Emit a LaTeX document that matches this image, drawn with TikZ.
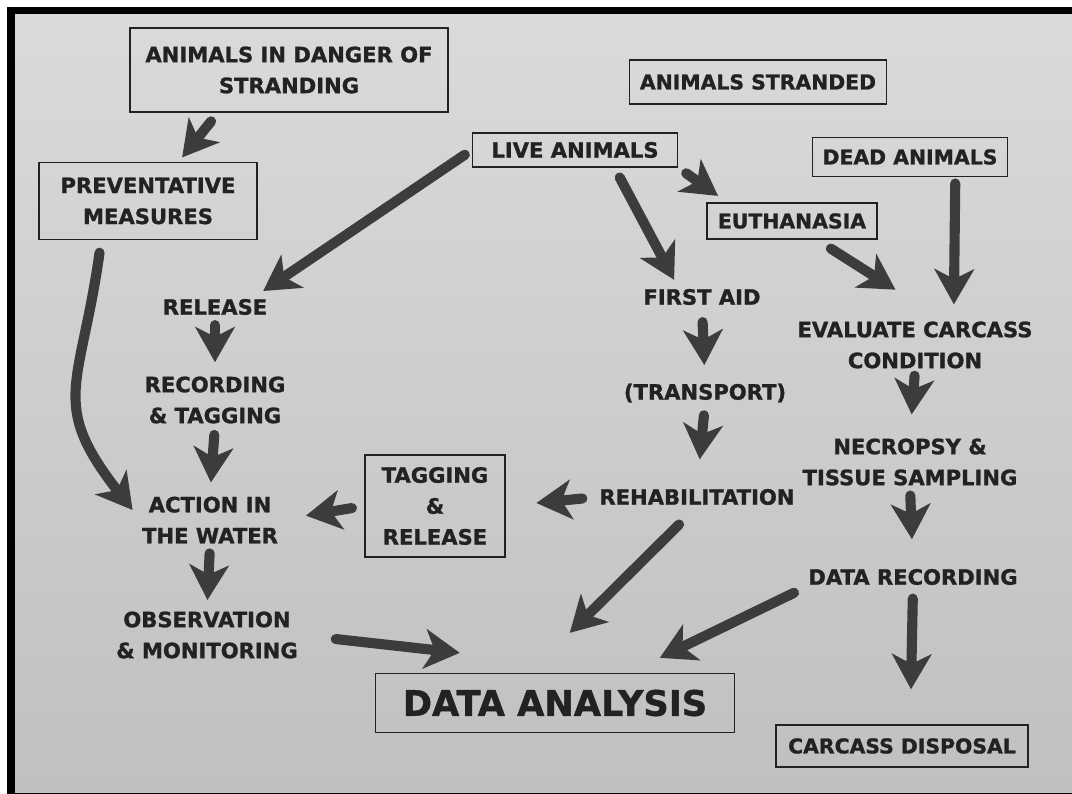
\documentclass[tikz,border=0pt]{standalone}
\usepackage{fontspec}
\setmainfont{DejaVu Sans}[BoldFeatures={FakeBold=1.2}]
\usetikzlibrary{arrows.meta}

\definecolor{ink}{RGB}{34,34,34}
\definecolor{arrowgray}{RGB}{60,60,60}
\definecolor{papertop}{RGB}{218,218,216}
\definecolor{paperbot}{RGB}{192,192,191}

\tikzset{
  stage/.style={align=center, text=ink, inner sep=1pt,
    font=\fontsize{15}{22}\selectfont\bfseries},
  box/.style={stage, draw=ink, line width=0.8pt},
  flow/.style={draw=arrowgray, line width=7.2pt, line cap=round,
    -{Stealth[length=25pt, width=28pt, inset=7pt]}},
}

\begin{document}
\begin{tikzpicture}[x=0.025cm, y=-0.025cm]
  % Photo frame
  \useasboundingbox (0,0) rectangle (1072,794);
  \fill[white] (0,0) rectangle (1072,794);
  \fill[black] (7,7) rectangle (1072,794);
  \shade[top color=papertop, bottom color=paperbot] (15,15) rectangle (1072,792);

  % Boxes
  \node[box, minimum width=7.95cm, minimum height=2.1cm] (danger) at (289,70) {ANIMALS IN DANGER OF\\STRANDING};
  \node[box, minimum width=6.43cm, minimum height=1.1cm, font=\fontsize{14.5}{20}\selectfont\bfseries] (stranded) at (758,82) {ANIMALS STRANDED};
  \node[box, minimum width=5.45cm, minimum height=1.93cm] (prevent) at (148,201) {PREVENTATIVE\\MEASURES};
  \node[box, minimum width=5.13cm, minimum height=0.85cm] (live) at (575,150) {LIVE ANIMALS};
  \node[box, minimum width=4.88cm, minimum height=0.98cm, font=\fontsize{14.5}{20}\selectfont\bfseries] (dead) at (910,157) {DEAD ANIMALS};
  \node[box, minimum width=4.25cm, minimum height=0.9cm, font=\fontsize{14.5}{20}\selectfont\bfseries] (euth) at (792,221) {EUTHANASIA};
  \node[box, minimum width=3.5cm, minimum height=2.55cm] (tagrel) at (435,506) {TAGGING\\\&\\RELEASE};
  \node[box, minimum width=8.98cm, minimum height=1.48cm, font=\fontsize{25}{30}\selectfont\bfseries] (data) at (555,703) {DATA ANALYSIS};
  \node[box, minimum width=6.3cm, minimum height=1.05cm, font=\fontsize{14.5}{20}\selectfont\bfseries] (disposal) at (902,746) {CARCASS DISPOSAL};

  % Steps
  \node[stage] (release) at (215,307) {RELEASE};
  \node[stage] (recording) at (215,400) {RECORDING\\\& TAGGING};
  \node[stage] (action) at (210,520) {ACTION IN\\THE WATER};
  \node[stage] (observe) at (207,635) {OBSERVATION\\\& MONITORING};
  \node[stage] (firstaid) at (702,297) {FIRST AID};
  \node[stage] (transport) at (705,393) {(TRANSPORT)};
  \node[stage] (rehab) at (697,497) {REHABILITATION};
  \node[stage] (evaluate) at (915,345) {EVALUATE CARCASS\\CONDITION};
  \node[stage] (necropsy) at (910,462) {NECROPSY \&\\TISSUE SAMPLING};
  \node[stage] (datarec) at (913,577) {DATA RECORDING};

  % Arrows
  \draw[flow, shorten <=8pt, shorten >=4pt] (danger.-149) -- (prevent.52);
  \draw[flow, shorten <=6pt, shorten >=8pt] (live.west) -- (release.14);
  \draw[flow, shorten <=9pt, shorten >=9pt] (prevent.-140) to[out=-98, in=128, looseness=1.35] (action.west);
  \draw[flow, shorten <=6pt, shorten >=9pt] (release.south) -- (recording.north);
  \draw[flow, shorten <=7pt, shorten >=9pt] (recording.south) -- (action.north);
  \draw[flow, shorten <=6pt, shorten >=7pt] (action.south) -- (observe.north);
  \draw[flow, shorten <=9pt, shorten >=19pt] (tagrel.west) -- (action.east);
  \draw[flow, shorten <=11pt, shorten >=22pt] (rehab.west) -- (tagrel.east);
  \draw[flow, shorten <=8pt, shorten >=6pt] (live.-24) -- (firstaid.158);
  \draw[flow, shorten <=7pt, shorten >=8pt] (live.south east) -- (euth.164);
  \draw[flow, shorten <=12pt, shorten >=40pt] (euth.-37) -- (evaluate.42);
  \draw[flow, shorten <=4.5pt, shorten >=11pt] (dead.-24) -- (evaluate.33);
  \draw[flow, shorten <=11pt, shorten >=12pt] (firstaid.south) -- (transport.north);
  \draw[flow, shorten <=8pt, shorten >=20pt] (transport.south) -- (rehab.north);
  \draw[flow, shorten <=4pt, shorten >=16pt] (evaluate.south) -- (necropsy.north);
  \draw[flow, shorten <=6pt, shorten >=20pt] (necropsy.south) -- (datarec.north);
  \draw[flow, shorten <=8.5pt, shorten >=25pt] (datarec.south) -- (disposal.69);
  \draw[flow, shorten <=26pt] (observe.east) -- ([shift={(85,-20)}]data.north west);
  \draw[flow, shorten <=18pt] (rehab.south) -- ([shift={(195,-40)}]data.north west);
  \draw[flow, shorten <=10pt] (datarec.south west) -- ([shift={(285,-15)}]data.north west);
\end{tikzpicture}
\end{document}
